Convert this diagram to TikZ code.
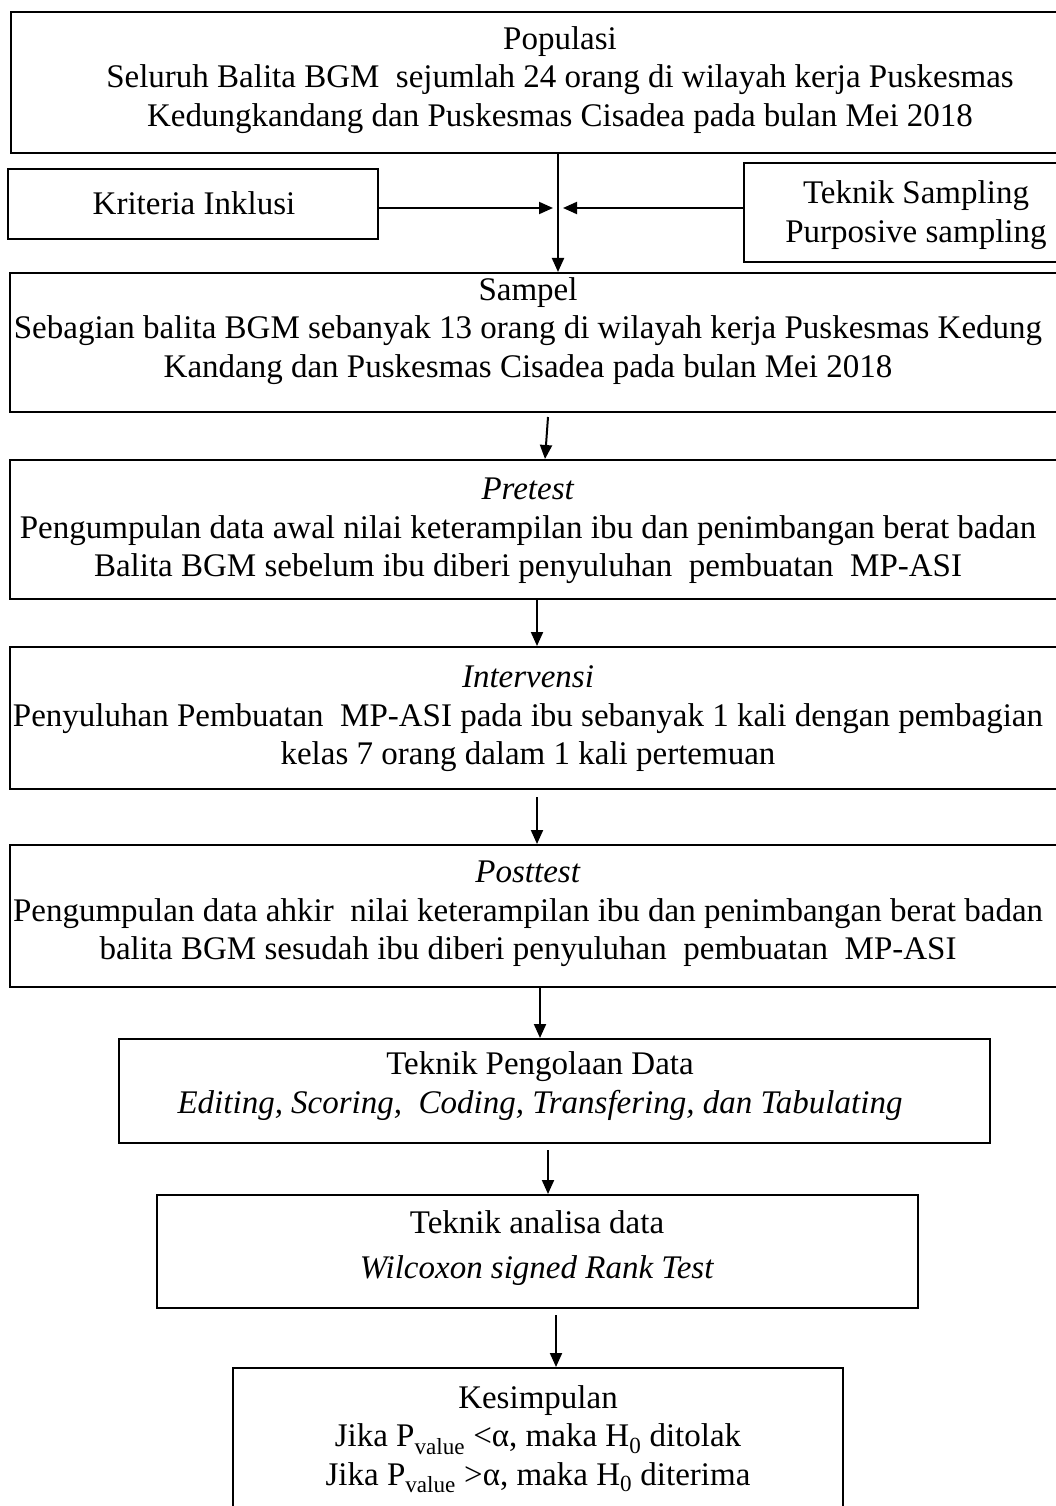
\documentclass[tikz,border=0pt]{standalone}
\usepackage{fontspec}
\setmainfont{Liberation Serif}
\usetikzlibrary{calc,fit,arrows.meta}
\newcommand{\kotak}[3]{\node[kotak, fit={(#2) (#3)}] (#1) {};}
\newcommand{\tulis}[3]{\node[tulisan] (#1) at (#2) {#3};}
\newcommand{\panah}[4]{\draw[alir] (#1 |- #2) -- (#3 |- #4);}
\tikzset{
  kotak/.style={draw, line width=2pt, inner sep=0pt},
  tulisan/.style={align=center, font=\fontsize{33}{38.5}\selectfont},
  alir/.style={line width=2pt, -{Triangle[length=14pt,width=12pt]}}
}
\begin{document}
\begin{tikzpicture}[x=1pt,y=-1pt]

    \clip (0,0) rectangle (1056,1506);

    % kotak-kotak
    \kotak{pop}{11,12}{1110,153}
    \kotak{krit}{8,169}{378,239}
    \kotak{tek}{744,163}{1110,262}
    \kotak{sampel}{10,273}{1110,412}
    \kotak{pretest}{10,460}{1110,599}
    \kotak{interv}{10,647}{1110,789}
    \kotak{post}{10,845}{1110,987}
    \kotak{olah}{119,1039}{990,1143}
    \kotak{analisa}{157,1195}{918,1308}
    \kotak{kes}{233,1368}{843,1530}

    % isi
    \tulis{popT}{560,80}{Populasi\\Seluruh Balita BGM\ \ sejumlah 24 orang di wilayah kerja Puskesmas\\Kedungkandang dan Puskesmas Cisadea pada bulan Mei 2018}
    \tulis{kritT}{194,203}{Kriteria Inklusi}
    \tulis{tekT}{916,215}{Teknik Sampling\\Purposive sampling}
    \tulis{sampelT}{528,331}{Sampel\\Sebagian balita BGM sebanyak 13 orang di wilayah kerja Puskesmas Kedung\\Kandang dan Puskesmas Cisadea pada bulan Mei 2018}
    \tulis{pretestT}{528,531}{\textit{Pretest}\\Pengumpulan data awal nilai keterampilan ibu dan penimbangan berat badan\\Balita BGM sebelum ibu diberi penyuluhan\ \ pembuatan\ \ MP-ASI}
    \tulis{intervT}{528,719}{\textit{Intervensi}\\Penyuluhan Pembuatan\ \ MP-ASI pada ibu sebanyak 1 kali dengan pembagian\\kelas 7 orang dalam 1 kali pertemuan}
    \tulis{postT}{528,914}{\textit{Posttest}\\Pengumpulan data ahkir\ \ nilai keterampilan ibu dan penimbangan berat badan\\balita BGM sesudah ibu diberi penyuluhan\ \ pembuatan\ \ MP-ASI}
    \tulis{olahT}{540,1086}{Teknik Pengolaan Data\\\textit{Editing, Scoring,\ \ Coding, Transfering, dan Tabulating}}
    \tulis{analisaT}{537,1248}{Teknik analisa data\\[6pt]\textit{Wilcoxon signed Rank Test}}
    \tulis{kesT}{538,1439}{Kesimpulan\\Jika P\textsubscript{value} <α, maka H\textsubscript{0} ditolak\\Jika P\textsubscript{value} >α, maka H\textsubscript{0} diterima}

    % panah
    \coordinate (temu) at (558,208);
    \panah{558,0}{pop.south}{558,0}{sampel.north}
    \draw[alir] (krit.east |- temu) -- ([xshift=-5pt]temu);
    \draw[alir] (tek.west |- temu) -- ([xshift=5pt]temu);
    \draw[alir] (548,417) -- (545,0 |- pretest.north);
    \panah{537,0}{pretest.south}{537,0}{interv.north}
    \draw[alir] (537,797) -- (537,0 |- post.north);
    \panah{540,0}{post.south}{540,0}{olah.north}
    \draw[alir] (548,1150) -- (548,0 |- analisa.north);
    \draw[alir] (556,1315) -- (556,0 |- kes.north);

\end{tikzpicture}
\end{document}
